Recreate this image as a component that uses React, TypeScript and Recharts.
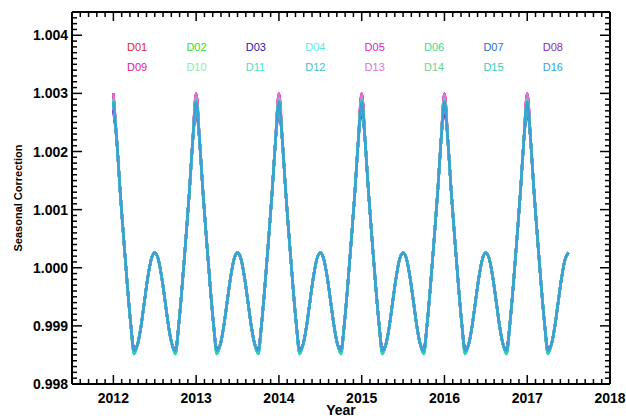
import { LineChart, Line, XAxis, YAxis } from "recharts"

const detectors = ["D01", "D02", "D03", "D04", "D05", "D06", "D07", "D08",
  "D09", "D10", "D11", "D12", "D13", "D14", "D15", "D16"]

const detectorColors = ["#e0242c", "#2ee02e", "#2020b0", "#5ee8e8", "#e020c8", "#30e090", "#2a70d8", "#8a28c8",
  "#e02090", "#90e8b0", "#50e0c0", "#40c0d0", "#e070e0", "#70d090", "#30d0b0", "#3aa0d8"]

// value each detector reaches at the January maximum and at the two annual minima
const peakValues = [1.00300, 1.00292, 1.00270, 1.00290, 1.00300, 1.00292, 1.00280, 1.00272,
  1.00300, 1.00290, 1.00290, 1.00290, 1.00300, 1.00290, 1.00288, 1.00285]
const troughValues = [0.99856, 0.99855, 0.99860, 0.99852, 0.99856, 0.99854, 0.99859, 0.99860,
  0.99856, 0.99853, 0.99851, 0.99852, 0.99856, 0.99854, 0.99852, 0.99857]

const yearTicks = [2012, 2013, 2014, 2015, 2016, 2017, 2018]
const correctionTicks = [0.998, 0.999, 1.000, 1.001, 1.002, 1.003, 1.004]

// common seasonal correction, sampled twice a month from Jan 2012 to Jul 2017
const seasonal = [
  1.00300, 1.00218, 1.00128, 1.00049, 0.99973, 0.99905, 0.99857, 0.99868, 0.99899, 0.99942, 0.99984, 1.00015,
  1.00026, 1.00015, 0.99984, 0.99942, 0.99899, 0.99868, 0.99857, 0.99905, 0.99973, 1.00049, 1.00128, 1.00218,
  1.00300, 1.00218, 1.00128, 1.00049, 0.99973, 0.99905, 0.99857, 0.99868, 0.99899, 0.99942, 0.99984, 1.00015,
  1.00026, 1.00015, 0.99984, 0.99942, 0.99899, 0.99868, 0.99857, 0.99905, 0.99973, 1.00049, 1.00128, 1.00218,
  1.00300, 1.00218, 1.00128, 1.00049, 0.99973, 0.99905, 0.99857, 0.99868, 0.99899, 0.99942, 0.99984, 1.00015,
  1.00026, 1.00015, 0.99984, 0.99942, 0.99899, 0.99868, 0.99857, 0.99905, 0.99973, 1.00049, 1.00128, 1.00218,
  1.00300, 1.00218, 1.00128, 1.00049, 0.99973, 0.99905, 0.99857, 0.99868, 0.99899, 0.99942, 0.99984, 1.00015,
  1.00026, 1.00015, 0.99984, 0.99942, 0.99899, 0.99868, 0.99857, 0.99905, 0.99973, 1.00049, 1.00128, 1.00218,
  1.00300, 1.00218, 1.00128, 1.00049, 0.99973, 0.99905, 0.99857, 0.99868, 0.99899, 0.99942, 0.99984, 1.00015,
  1.00026, 1.00015, 0.99984, 0.99942, 0.99899, 0.99868, 0.99857, 0.99905, 0.99973, 1.00049, 1.00128, 1.00218,
  1.00300, 1.00218, 1.00128, 1.00049, 0.99973, 0.99905, 0.99857, 0.99868, 0.99899, 0.99942, 0.99984, 1.00015,
  1.00026,
]

const data = seasonal.map((v, i) => {
  const row: Record<string, number> = { year: 2012 + i / 24 }
  detectors.forEach((d, j) => {
    row[d] = v >= 1.0029 ? peakValues[j] : v <= 0.9986 ? troughValues[j] : v
  })
  return row
})

const xMinor = Array.from({ length: 66 }, (_, i) => Math.round((2011.5 + i * 0.1) * 10) / 10)
const yMinor = Array.from({ length: 65 }, (_, i) => Math.round((0.998 + i * 0.0001) * 10000) / 10000)

const isMajorX = (v: number) => yearTicks.some((t) => Math.abs(t - v) < 1e-6)
const isMajorY = (v: number) => correctionTicks.some((t) => Math.abs(t - v) < 1e-7)

const FONT = "'Liberation Sans', Arial, Helvetica, sans-serif"
const MAJOR = 9
const MINOR = 5

const BottomTick = ({ x, y, payload }: any) => {
  const major = isMajorX(payload.value)
  return (
    <g>
      <line x1={x} x2={x} y1={y} y2={y - (major ? MAJOR : MINOR)} stroke="#000" strokeWidth={1.5} />
      {major && (
        <text x={x} y={y + 19} textAnchor="middle" fontFamily={FONT} fontWeight="bold" fontSize={14} fill="#000">
          {payload.value}
        </text>
      )}
    </g>
  )
}

const TopTick = ({ x, y, payload }: any) => {
  const major = isMajorX(payload.value)
  return <line x1={x} x2={x} y1={y} y2={y + (major ? MAJOR : MINOR)} stroke="#000" strokeWidth={1.5} />
}

const LeftTick = ({ x, y, payload }: any) => {
  const major = isMajorY(payload.value)
  return (
    <g>
      <line x1={x} x2={x + (major ? MAJOR + 1 : MINOR)} y1={y} y2={y} stroke="#000" strokeWidth={1.5} />
      {major && (
        <text x={x - 4} y={y + 5} textAnchor="end" fontFamily={FONT} fontWeight="bold" fontSize={14} fill="#000">
          {payload.value.toFixed(3)}
        </text>
      )}
    </g>
  )
}

const RightTick = ({ x, y, payload }: any) => {
  const major = isMajorY(payload.value)
  return <line x1={x} x2={x - (major ? MAJOR + 1 : MINOR)} y1={y} y2={y} stroke="#000" strokeWidth={1.5} />
}

const Legend16 = () => (
  <>
    {detectors.map((d, i) => (
      <span
        key={d}
        style={{
          position: "absolute",
          left: 127 + (i % 8) * 59.4,
          top: i < 8 ? 41.7 : 62.2,
          fontFamily: FONT,
          fontSize: 11,
          lineHeight: "11px",
          color: detectorColors[i],
          whiteSpace: "nowrap",
        }}
      >
        {d}
      </span>
    ))}
  </>
)

export default function App() {
  const axisLine = { stroke: "#000", strokeWidth: 2 }
  return (
    <div style={{ position: "fixed", left: 0, top: 0, width: 626, height: 419, background: "#fff" }}>
      <LineChart width={626} height={419} data={data} margin={{ top: 11, right: 0, bottom: 0, left: 0 }}>
        <XAxis
          xAxisId="x"
          dataKey="year"
          type="number"
          domain={[2011.5, 2018]}
          allowDataOverflow
          ticks={xMinor}
          interval={0}
          tickSize={0}
          tickMargin={0}
          tickLine={false}
          axisLine={axisLine}
          tick={BottomTick}
          height={35}
          label={{
            content: () => (
              <text x={341} y={415} textAnchor="middle" fontFamily={FONT} fontWeight="bold" fontSize={14} fill="#000">
                Year
              </text>
            ),
          }}
        />
        <XAxis
          xAxisId="t"
          orientation="top"
          dataKey="year"
          type="number"
          domain={[2011.5, 2018]}
          allowDataOverflow
          ticks={xMinor}
          interval={0}
          tickSize={0}
          tickMargin={0}
          tickLine={false}
          axisLine={axisLine}
          tick={TopTick}
          height={1}
        />
        <YAxis
          yAxisId="y"
          type="number"
          domain={[0.998, 1.0044]}
          allowDataOverflow
          ticks={yMinor}
          interval={0}
          tickSize={0}
          tickMargin={0}
          tickLine={false}
          axisLine={axisLine}
          tick={LeftTick}
          width={72}
          label={{
            content: () => (
              <text
                transform="translate(22,198) rotate(-90)"
                textAnchor="middle"
                fontFamily={FONT}
                fontWeight="bold"
                fontSize={11}
                fill="#000"
              >
                Seasonal Correction
              </text>
            ),
          }}
        />
        <YAxis
          yAxisId="r"
          orientation="right"
          type="number"
          domain={[0.998, 1.0044]}
          allowDataOverflow
          ticks={yMinor}
          interval={0}
          tickSize={0}
          tickMargin={0}
          tickLine={false}
          axisLine={axisLine}
          tick={RightTick}
          width={16}
        />
        {detectors.map((d, i) => (
          <Line
            key={d}
            xAxisId="x"
            yAxisId="y"
            type="monotone"
            dataKey={d}
            stroke={detectorColors[i]}
            strokeWidth={2.5}
            dot={false}
            isAnimationActive={false}
          />
        ))}
      </LineChart>
      <Legend16 />
    </div>
  )
}
